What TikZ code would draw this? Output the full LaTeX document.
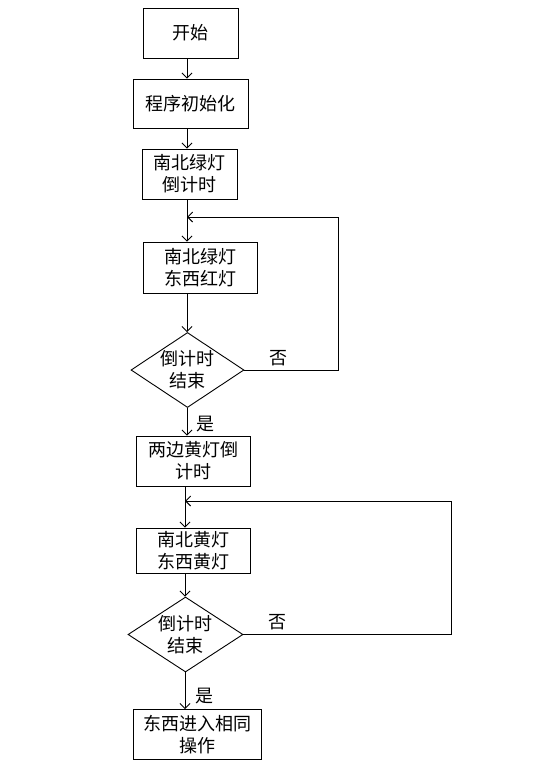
\documentclass[tikz,border=0pt]{standalone}
\usepackage{fontspec}
\setmainfont{Noto Sans CJK SC}
\usetikzlibrary{shapes.geometric,arrows.meta}

\begin{document}
\begin{tikzpicture}[x=1pt,y=-1pt,
    line width=0.9pt,
    >={Straight Barb[length=5pt,width=10pt]},
    box/.style={draw, rectangle, align=center, inner sep=0pt,
        font=\fontsize{18}{22}\selectfont},
    decision/.style={draw, diamond, inner sep=0pt, aspect=1.5},
    tag/.style={font=\fontsize{18}{22}\selectfont}]

\useasboundingbox (0,0) rectangle (541,764);

% columns of the main flow
\coordinate (u) at (187,0);
\coordinate (l) at (185,0);

% Start
\node [box, minimum width=95pt, minimum height=50pt] (start) at (190.5,33) {开始};

% Init
\node [box, minimum width=115pt, minimum height=49pt] (init) at (190.5,103.5) {程序初始化};

% North-south green countdown
\node [box, minimum width=95pt, minimum height=50pt] (nsgreen) at (189.5,174) {南北绿灯\\倒计时};

% Green / red phase
\node [box, minimum width=114pt, minimum height=51pt] (greenred) at (200,267.5) {南北绿灯\\东西红灯};

% First check
\node [decision, minimum width=113pt, minimum height=75pt,
    label={[tag, align=center]center:倒计时\\结束}] (check1) at (187.5,370) {};

% Yellow countdown
\node [box, minimum width=114pt, minimum height=50pt] (yellow) at (193,461) {两边黄灯倒\\计时};

% Yellow phase
\node [box, minimum width=114pt, minimum height=45pt] (yellowboth) at (193,550.5) {南北黄灯\\东西黄灯};

% Second check
\node [decision, minimum width=115pt, minimum height=75pt,
    label={[tag, align=center]center:倒计时\\结束}] (check2) at (185.5,634.5) {};

% East-west
\node [box, minimum width=128pt, minimum height=50pt] (eastwest) at (197,734.5) {东西进入相同\\操作};

% loop corners
\coordinate (loop1) at (187,217);
\coordinate (loop2) at (185,501);
\coordinate (r1) at (338,0);
\coordinate (r2) at (451,0);

% main flow
\draw [->] (start.south -| u) -- (init.north -| u);
\draw [->] (init.south -| u) -- (nsgreen.north -| u);
\draw [->] (nsgreen.south -| u) -- (greenred.north -| u);
\draw [->] (greenred.south -| u) -- (check1.north -| u);
\draw [->] (check1.south -| u) -- (yellow.north -| u);
\draw [->] (yellow.south -| l) -- (yellowboth.north -| l);
\draw [->] (yellowboth.south -| l) -- (check2.north -| l);
\draw [->] (check2.south -| l) -- (eastwest.north -| l);

% loops back
\draw [->] (check1.east) -- (check1.east -| r1) -- (loop1 -| r1) -- (loop1);
\draw [->] (check2.east) -- (check2.east -| r2) -- (loop2 -| r2) -- (loop2);

% Yes / no labels
\node [tag] (no1) at (278,358) {否};
\node [tag] (yes1) at (205,424) {是};
\node [tag] (no2) at (277,622) {否};
\node [tag] (yes2) at (204,696) {是};

\end{tikzpicture}
\end{document}
